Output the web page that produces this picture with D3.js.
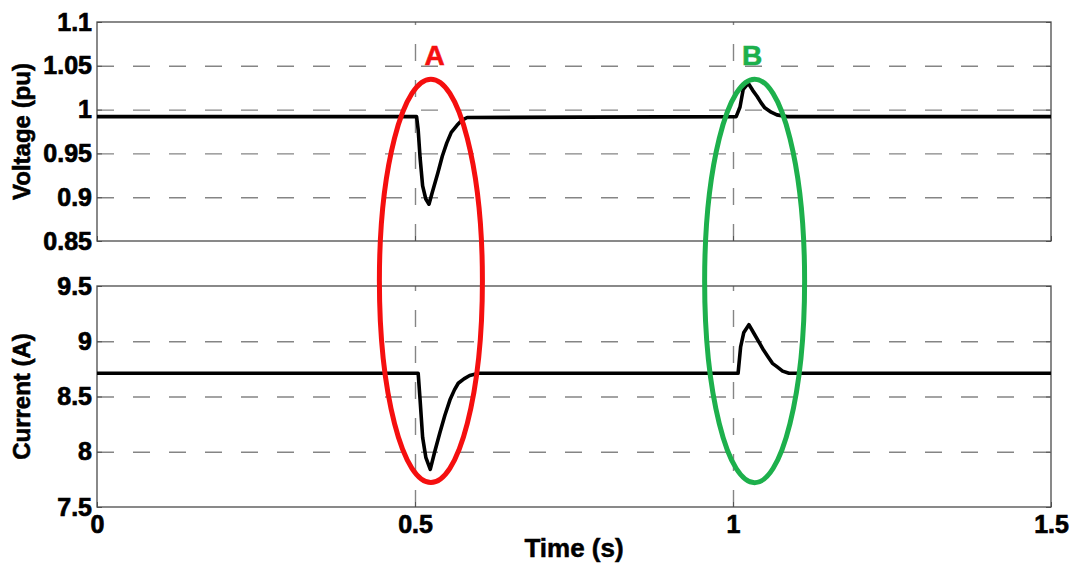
<!DOCTYPE html>
<html lang="en">
<head>
    <meta charset="UTF-8">
    <title>Voltage and current</title>
    <script src="https://d3js.org/d3.v7.min.js"></script>
    <style>
        body {
            margin: 0;
            background: #fff;
        }

        .texto {
            font-family: "Liberation Sans", Arial, sans-serif;
            font-weight: bold;
        }
    </style>
</head>
<body>
<svg width="1078" height="563"></svg>

<script type="application/javascript">

    // tensión (pu)
    const timeV = [0, 0.5025, 0.505, 0.508, 0.512, 0.517, 0.522, 0.527, 0.536, 0.543, 0.550, 0.557, 0.566, 0.574, 0.582,
        1.005, 1.011, 1.016, 1.024, 1.031, 1.038, 1.044, 1.050, 1.060, 1.069, 1.085, 1.5];
    const voltage = [0.992, 0.992, 0.977, 0.945, 0.913, 0.898, 0.892, 0.905, 0.928, 0.947, 0.962, 0.974, 0.982, 0.988, 0.991,
        0.992, 1.003, 1.023, 1.030, 1.022, 1.015, 1.008, 1.002, 0.997, 0.994, 0.992, 0.992];

    // corriente (A)
    const timeI = [0, 0.505, 0.508, 0.512, 0.517, 0.524, 0.531, 0.539, 0.547, 0.555, 0.562, 0.568, 0.577, 0.586, 0.600,
        1.008, 1.012, 1.017, 1.025, 1.033, 1.042, 1.048, 1.055, 1.062, 1.069, 1.078, 1.088, 1.5];
    const current = [8.71, 8.71, 8.47, 8.13, 7.95, 7.84, 8.00, 8.17, 8.33, 8.47, 8.56, 8.62, 8.66, 8.69, 8.71,
        8.71, 8.95, 9.08, 9.15, 9.07, 8.98, 8.92, 8.86, 8.80, 8.77, 8.73, 8.71, 8.71];

    // ticks
    const timeTicks = [0, 0.5, 1, 1.5];
    const voltTicks = [0.85, 0.9, 0.95, 1, 1.05, 1.1];
    const currTicks = [7.5, 8, 8.5, 9, 9.5];

    // anotaciones (elipses A y B)
    const annoLabels = ["A", "B"];
    const annoColors = ["#f50f0f", "#1db04c"];
    const annoCenter = [0.525, 1.034];
    const annoHalfWidth = [0.081, 0.0786];
    const annoLabelTime = [0.531, 1.030];
    const annoTopVolt = [1.0347, 1.0347];
    const annoBottomCurr = [7.722, 7.72];

    const svg = d3.select("svg");

    const x = d3.scaleLinear().domain([0, 1.5]).range([97, 1051]);
    const yV = d3.scaleLinear().domain([0.85, 1.1]).range([241, 22]);
    const yI = d3.scaleLinear().domain([7.5, 9.5]).range([507, 286]);

    // texto de los ticks en negrita (un poco de trazo para que se vea mas grueso)
    function boldTicks(s) {
        s.selectAll("text")
            .attr("class", "texto")
            .attr("fill", "#000")
            .attr("stroke", "#000")
            .attr("stroke-width", 0.7)
            .style("font-size", "25px")
            .style("font-weight", "bold")
            .style("font-family", "'Liberation Sans', Arial, sans-serif");
    }

    function panel(y, ticks, times, values, label, showX) {
        const top = y.range()[1], bottom = y.range()[0];
        const g = svg.append("g");

        // lineas horizontales punteadas
        g.append("g")
            .attr("transform", "translate(" + x.range()[0] + ",0)")
            .call(d3.axisLeft(y).tickValues(ticks.slice(1, -1))
                .tickSize(-(x.range()[1] - x.range()[0])).tickFormat(""))
            .call(s => s.select(".domain").remove())
            .selectAll("line")
            .attr("stroke", "#858585")
            .attr("stroke-width", 1.4)
            .attr("stroke-dasharray", "17,19");

        // lineas verticales punteadas
        g.append("g")
            .attr("transform", "translate(0," + bottom + ")")
            .call(d3.axisBottom(x).tickValues(timeTicks.slice(1, -1))
                .tickSize(-(bottom - top)).tickFormat(""))
            .call(s => s.select(".domain").remove())
            .selectAll("line")
            .attr("stroke", "#858585")
            .attr("stroke-width", 1.4)
            .attr("stroke-dasharray", "17,19");

        // eje izq
        g.append("g")
            .attr("transform", "translate(" + x.range()[0] + ",0)")
            .call(d3.axisLeft(y).tickValues(ticks).tickSize(-5).tickPadding(5).tickFormat(d => String(d)))
            .call(s => s.select(".domain").remove())
            .call(s => s.selectAll("line").attr("stroke", "#555"))
            .call(boldTicks);

        // eje der (solo ticks)
        g.append("g")
            .attr("transform", "translate(" + x.range()[1] + ",0)")
            .call(d3.axisRight(y).tickValues(ticks).tickSize(-5).tickFormat(""))
            .call(s => s.select(".domain").remove())
            .call(s => s.selectAll("line").attr("stroke", "#555"));

        // eje inferior
        g.append("g")
            .attr("transform", "translate(0," + bottom + ")")
            .call(d3.axisBottom(x).tickValues(timeTicks).tickSize(-5).tickPadding(8)
                .tickFormat(showX ? (d => String(d)) : ""))
            .call(s => s.select(".domain").remove())
            .call(s => s.selectAll("line").attr("stroke", "#555"))
            .call(boldTicks);

        // marco
        g.append("rect")
            .attr("x", x.range()[0])
            .attr("y", top)
            .attr("width", x.range()[1] - x.range()[0])
            .attr("height", bottom - top)
            .attr("fill", "none")
            .attr("stroke", "#4a4a4a")
            .attr("stroke-width", 1.3);

        // señal
        const line = d3.line()
            .x((d, i) => x(times[i]))
            .y(d => y(d));
        g.append("path")
            .datum(values)
            .attr("d", line)
            .attr("fill", "none")
            .attr("stroke", "#000")
            .attr("stroke-width", 3.6)
            .attr("stroke-linejoin", "round");

        // titulo eje y
        g.append("text")
            .attr("class", "texto")
            .attr("transform", "translate(30," + (top + bottom) / 2 + ") rotate(-90)")
            .attr("text-anchor", "middle")
            .attr("font-size", 24)
            .attr("stroke", "#000")
            .attr("stroke-width", 0.6)
            .text(label);
    }

    panel(yV, voltTicks, timeV, voltage, "Voltage (pu)", false);
    panel(yI, currTicks, timeI, current, "Current (A)", true);

    // titulo eje x
    svg.append("text")
        .attr("class", "texto")
        .attr("x", (x.range()[0] + x.range()[1]) / 2)
        .attr("y", 557)
        .attr("text-anchor", "middle")
        .attr("font-size", 26)
        .attr("stroke", "#000")
        .attr("stroke-width", 0.5)
        .text("Time (s)");

    // elipses
    svg.selectAll("ellipse")
        .data(annoLabels)
        .enter()
        .append("ellipse")
        .attr("cx", (d, i) => x(annoCenter[i]))
        .attr("cy", (d, i) => (yV(annoTopVolt[i]) + yI(annoBottomCurr[i])) / 2)
        .attr("rx", (d, i) => x(annoHalfWidth[i]) - x(0))
        .attr("ry", (d, i) => (yI(annoBottomCurr[i]) - yV(annoTopVolt[i])) / 2)
        .attr("fill", "none")
        .attr("stroke", (d, i) => annoColors[i])
        .attr("stroke-width", 5);

    // letras A y B
    svg.selectAll("text.anno")
        .data(annoLabels)
        .enter()
        .append("text")
        .attr("class", "texto anno")
        .attr("x", (d, i) => x(annoLabelTime[i]))
        .attr("y", 65)
        .attr("text-anchor", "middle")
        .attr("font-size", 28)
        .attr("fill", (d, i) => annoColors[i])
        .attr("stroke", (d, i) => annoColors[i])
        .attr("stroke-width", 0.6)
        .text(d => d);

</script>
</body>
</html>
